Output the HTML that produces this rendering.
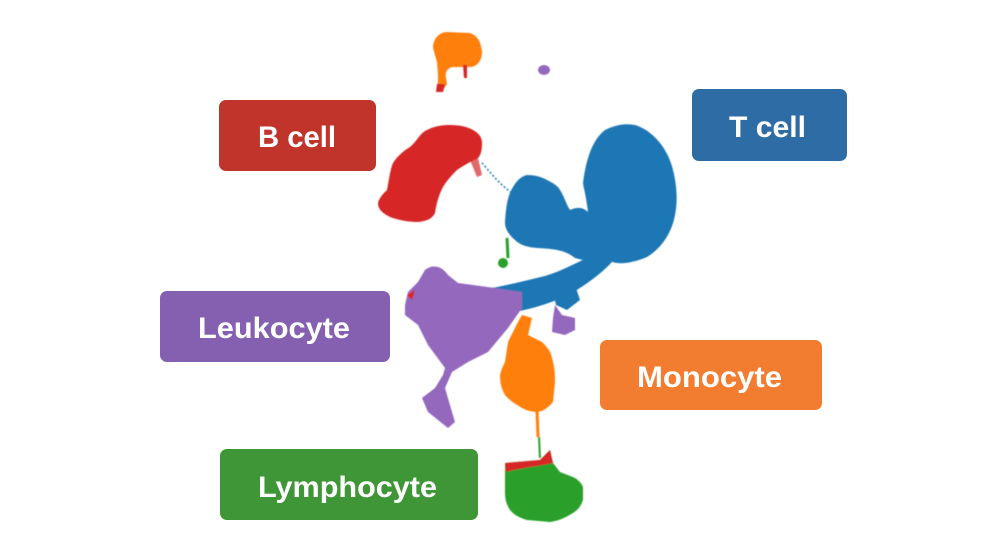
<!DOCTYPE html>
<html><head><meta charset="utf-8"><style>
html,body{margin:0;padding:0;background:#fff;width:1000px;height:557px;overflow:hidden}
svg{display:block}
text{font-family:"Liberation Sans",sans-serif;font-weight:bold;fill:#fff;font-size:30px}
</style></head><body>
<svg width="1000" height="557" viewBox="0 0 1000 557">
<defs><filter id="r"><feGaussianBlur stdDeviation="0.6"/></filter></defs>
<g filter="url(#r)" stroke-linejoin="round">
<!-- top orange -->
<path d="M433,48 C433,38 440,32 447,32 L470,33 C478,36 481,42 482,52 C482,62 476,67 470,67 L453,67 C447,68 445,72 446,78 L447,84 L443,90 L437,90 C438,84 438,80 438,75 L437,62Z" fill="#ff7f0e"/>
<path d="M437,84 L445,84 L443,92 L436,92Z" fill="#d62728"/>
<path d="M463,65 L467,65 L467,78 L464,78Z" fill="#d62728"/>
<ellipse cx="544" cy="70" rx="6" ry="5" fill="#9467bd"/>
<!-- red B -->
<path d="M378,203 C380,196 385,192 387,190 C389,180 390,170 393,163 C398,155 405,150 410,147 C418,140 420,133 427,130 C435,126 442,125 450,125 C460,125 468,127 473,130 C480,134 482,138 482,143 C482,150 481,155 478,158 C472,161 466,164 457,170 C450,177 446,182 443,187 C440,193 437,200 435,213 C432,219 427,221 418,222 C408,222 398,220 390,217 C382,213 378,209 378,203Z" fill="#d62728"/>
<path d="M470,160 L478,158 L482,175 L477,177Z" fill="#d62728" opacity="0.7"/>
<path d="M482,163 C490,172 500,185 512,193" stroke="#1f77b4" stroke-width="1.5" stroke-dasharray="2 2" fill="none"/>
<!-- blue -->
<path d="M505,223 C506,205 508,195 513,187 C517,180 522,176 527,175 C535,175 542,177 547,180 C553,183 558,186 560,190 C565,198 566,204 570,210 C578,206 584,208 588,212 C586,195 583,185 583,183 C586,160 592,140 605,130 C615,125 625,123 635,125 C652,130 668,148 673,170 C678,190 677,205 675,215 C672,232 662,248 647,257 C635,262 625,264 617,263 C611,262 607,260 605,258 C600,262 590,262 575,258 C565,250 555,249 537,248 C525,247 519,244 515,240 C508,234 505,228 505,223Z" fill="#1f77b4"/>
<path d="M480,290 C500,287 520,282 545,276 C565,270 585,258 600,252 L612,262 C600,275 585,285 572,293 C555,302 535,308 515,312 C500,312 488,310 482,306Z" fill="#1f77b4"/>
<path d="M553,292 L575,285 L580,300 L567,310 L556,305Z" fill="#1f77b4"/>
<!-- green small -->
<path d="M507,238 L508,258" stroke="#2ca02c" stroke-width="3"/>
<circle cx="503" cy="263" r="5" fill="#2ca02c"/>
<!-- purple leukocyte -->
<path d="M405,305 L408,292 L418,282 L425,270 C430,266 434,266 438,267 C442,268 445,271 448,275 L458,283 L495,288 L522,292 L522,308 L508,328 L488,352 L468,362 L452,372 L445,388 L452,412 L455,422 L448,428 L428,412 L422,398 L435,388 L443,375 L445,368 L428,345 L418,325 L405,315Z" fill="#9467bd"/>
<path d="M555,305 L562,315 L575,318 L575,330 L565,335 L552,332 L553,318Z" fill="#9467bd"/>
<path d="M407,295 L415,290 L412,300Z" fill="#d62728"/>
<!-- orange monocyte -->
<path d="M522,315 L532,318 L528,335 L542,342 C548,348 551,352 552,358 C555,368 555,375 555,382 L553,402 C548,408 543,411 538,412 C530,412 526,410 522,408 C515,404 509,400 505,395 C501,388 500,382 500,375 C501,370 503,366 505,362 L508,342 L518,322Z" fill="#ff7f0e"/>
<path d="M537,410 L538,437" stroke="#ff7f0e" stroke-width="3"/>
<path d="M539,437 L540,458" stroke="#2ca02c" stroke-width="2"/>
<!-- green lymphocyte -->
<path d="M505,463 L540,460 L550,450 L553,463 L560,472 L573,477 C579,480 582,484 583,487 L583,500 C581,506 578,510 573,513 C565,518 558,521 550,522 L527,520 C520,518 514,515 510,510 C506,504 505,498 505,493Z" fill="#2ca02c"/>
<path d="M505,463 L540,460 L550,450 L553,463 C540,466 520,468 506,472Z" fill="#d62728"/>
</g>
<!-- labels -->
<rect x="219" y="100" width="157" height="71" rx="7" fill="#c0342c"/>
<text x="258" y="147" textLength="78" lengthAdjust="spacingAndGlyphs">B cell</text>
<rect x="692" y="89" width="155" height="72" rx="7" fill="#2e6ca6"/>
<text x="729" y="137" textLength="77" lengthAdjust="spacingAndGlyphs">T cell</text>
<rect x="160" y="291" width="230" height="71" rx="7" fill="#8560b0"/>
<text x="198" y="338" textLength="152" lengthAdjust="spacingAndGlyphs">Leukocyte</text>
<rect x="600" y="340" width="222" height="70" rx="7" fill="#f27d30"/>
<text x="637" y="387" textLength="145" lengthAdjust="spacingAndGlyphs">Monocyte</text>
<rect x="220" y="449" width="258" height="71" rx="7" fill="#3e9636"/>
<text x="258" y="497" textLength="179" lengthAdjust="spacingAndGlyphs">Lymphocyte</text>
</svg>
</body></html>
